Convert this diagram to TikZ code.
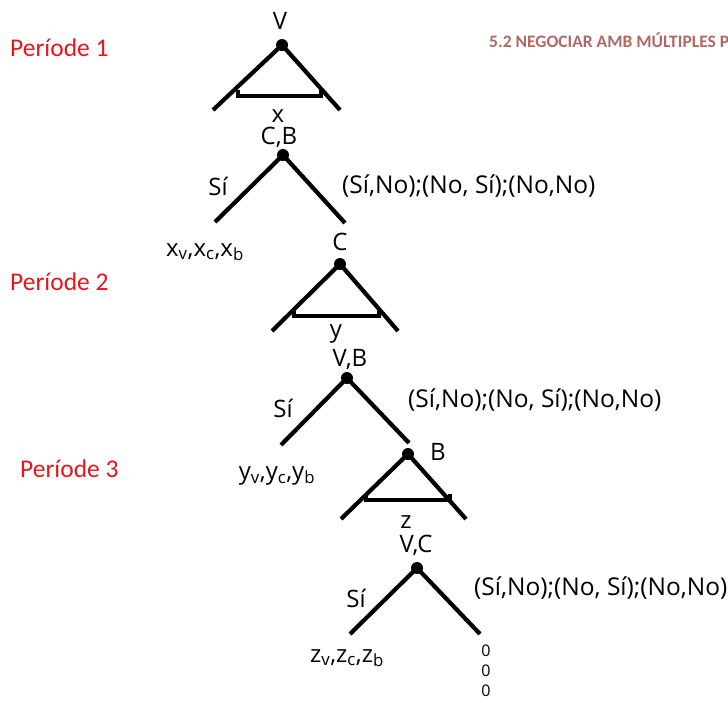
\documentclass[tikz,border=0pt]{standalone}
\usepackage{fontspec}
\setmainfont{Open Sans}
\newfontfamily\redfont{Carlito}
\newfontfamily\titlefont{Carlito}
\definecolor{perred}{RGB}{232,20,30}
\definecolor{titlecol}{RGB}{176,104,100}
\begin{document}
\begin{tikzpicture}[x=1pt,y=-1pt,
  branch/.style={line width=4.2pt},
  bracketline/.style={line width=3.6pt},
  dotnode/.style={circle,fill,inner sep=0pt,minimum size=12pt},
  lbl/.style={font=\fontsize{24}{27}\selectfont,inner sep=0pt},
  pay/.style={font=\fontsize{24.5}{27}\selectfont,inner sep=0pt,anchor=west},
  small/.style={font=\fontsize{16}{18}\selectfont,inner sep=0pt},
  per/.style={font=\redfont\fontsize{25.5}{28}\selectfont,text=perred,inner sep=0pt,anchor=west},
  ]
\useasboundingbox (0,0) rectangle (728,702);
% ---------- title ----------
\node[font=\titlefont\bfseries\fontsize{17.5}{19}\selectfont,text=titlecol,inner sep=0pt,anchor=west] (title) at (489,40) {5.2 NEGOCIAR AMB MÚLTIPLES P};
% ---------- period labels ----------
\node[per] (p1) at (10,48) {Període 1};
\node[per] (p2) at (10,282) {Període 2};
\node[per] (p3) at (20,469) {Període 3};
% ---------- tree 1 (V) ----------
\node[dotnode] (n1) at (282,45) {};
\coordinate (n1l) at (213,110);
\coordinate (n1r) at (340,110);
\draw[branch] (n1l) -- (n1.center) -- (n1r);
\draw[bracketline] (238,90) -- (238,96) -- (321,96) -- (321,90);
\node[lbl] (v1) at (280,21) {V};
\node[lbl] (x1) at (278,116) {x};
% ---------- tree 2 (C,B) ----------
\node[dotnode] (n2) at (283,155) {};
\coordinate (n2l) at (215,222);
\coordinate (n2r) at (345,223);
\draw[branch] (n2l) -- (n2.center) -- (n2r);
\node[lbl] (cb) at (279,137) {C,B};
\node[lbl] (si1) at (218,186) {Sí};
\node[pay] (pay1) at (342,186) {(Sí,No);(No, Sí);(No,No)};
\node[lbl] (xs) at (205,252) {x\textsubscript{v},x\textsubscript{c},x\textsubscript{b}};
% ---------- tree 3 (C) ----------
\node[dotnode] (n3) at (340,264) {};
\coordinate (n3l) at (272,331);
\coordinate (n3r) at (398,331);
\draw[branch] (n3l) -- (n3.center) -- (n3r);
\draw[bracketline] (294,310) -- (294,316) -- (379,316) -- (379,310);
\node[lbl] (c3) at (340,242) {C};
\node[lbl] (y3) at (336,334) {y};
% ---------- tree 4 (V,B) ----------
\node[dotnode] (n4) at (347,378) {};
\coordinate (n4l) at (281,445);
\coordinate (n4r) at (409,443);
\draw[branch] (n4l) -- (n4.center) -- (n4r);
\node[lbl] (vb) at (350,359) {V,B};
\node[lbl] (si2) at (283,408) {Sí};
\node[pay] (pay2) at (408,400) {(Sí,No);(No, Sí);(No,No)};
\node[lbl] (ys) at (277,476) {y\textsubscript{v},y\textsubscript{c},y\textsubscript{b}};
% ---------- tree 5 (B) ----------
\node[dotnode] (n5) at (408,454) {};
\coordinate (n5l) at (341,519);
\coordinate (n5r) at (466,519);
\draw[branch] (n5l) -- (n5.center) -- (n5r);
\draw[bracketline] (366,494) -- (366,500) -- (450,500) -- (450,494);
\node[lbl] (b5) at (438,452) {B};
\node[lbl] (z5) at (406,522) {z};
% ---------- tree 6 (V,C) ----------
\node[dotnode] (n6) at (417,568) {};
\coordinate (n6l) at (350,634);
\coordinate (n6r) at (480,634);
\draw[branch] (n6l) -- (n6.center) -- (n6r);
\node[lbl] (vc) at (416,545) {V,C};
\node[lbl] (si3) at (356,598) {Sí};
\node[pay] (pay3) at (474,588) {(Sí,No);(No, Sí);(No,No)};
\node[lbl] (zs) at (347,658) {z\textsubscript{v},z\textsubscript{c},z\textsubscript{b}};
\node[small] (o1) at (486,651) {0};
\node[small] (o2) at (486,671) {0};
\node[small] (o3) at (486,691) {0};
\end{tikzpicture}
\end{document}
